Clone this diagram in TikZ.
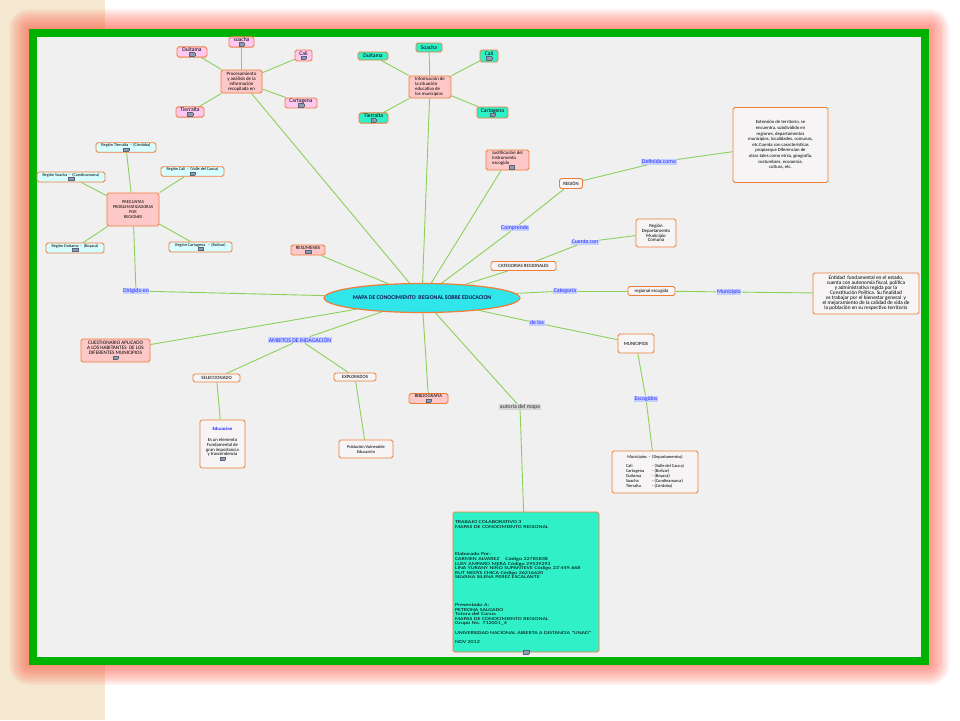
\documentclass[tikz,border=0pt]{standalone}
\usepackage{fontspec}
\setmainfont{Carlito}
\newfontfamily\widefont{Carlito}[FakeStretch=1.33]
\usetikzlibrary{shapes.geometric}
\definecolor{frgreen}{RGB}{0,178,0}
\definecolor{innerbg}{RGB}{240,240,240}
\definecolor{beige}{RGB}{246,233,210}
\definecolor{glow}{RGB}{255,80,60}
\definecolor{nbord}{RGB}{238,125,58}
\definecolor{pinkf}{RGB}{255,200,200}
\definecolor{lavf}{RGB}{255,200,240}
\definecolor{aquaf}{RGB}{48,240,200}
\definecolor{cyanf}{RGB}{48,230,235}
\definecolor{lcyan}{RGB}{215,255,255}
\definecolor{whitef}{RGB}{246,244,244}
\definecolor{egreen}{RGB}{140,208,90}
\definecolor{lblbg}{RGB}{196,208,255}
\definecolor{lbltx}{RGB}{40,40,255}
\definecolor{icfill}{RGB}{140,156,178}
\definecolor{icbord}{RGB}{90,100,120}
\definecolor{graybg}{RGB}{214,214,214}
\definecolor{navy}{RGB}{20,20,80}
\newcommand\icn{{\setlength\fboxsep{0pt}\setlength\fboxrule{0.3pt}\fcolorbox{icbord}{icfill}{\rule{0pt}{3pt}\hspace{5pt}}}}
\newcommand\fz[2]{\fontsize{#1}{#2}\selectfont}
\pgfdeclarelayer{back}\pgfdeclarelayer{edges}\pgfsetlayers{back,edges,main}
\tikzset{
 box/.style={draw=nbord, line width=0.9pt, rounded corners=1.8pt, fill=pinkf, align=center, inner sep=1pt, font=\fz{4.3}{5}},
 sz/.style 2 args={minimum width=#1pt, minimum height=#2pt},
 lav/.style={box, fill=lavf, font=\fz{5.6}{5}},
 aq/.style={box, fill=aquaf, font=\fz{5.6}{5}},
 rg/.style={box, fill=lcyan, font=\fz{4.2}{4.6}},
 wb/.style={box, fill=whitef},
 capbox/.style={box, font=\fz{4.8}{5}},
 lbl/.style={fill=lblbg, text=lbltx, inner sep=0.6pt, font=\fz{5.8}{6}},
 edge/.style={draw=egreen, line width=0.9pt},
}
\begin{document}
\begin{tikzpicture}[x=1pt,y=-1pt]
\useasboundingbox (0,0) rectangle (960,720);
\begin{pgfonlayer}{back}
\fill[white] (0,0) rectangle (960,720);
\fill[beige] (0,0) rectangle (105,720);
\foreach \d in {20,18,...,2}
  \fill[glow, opacity=0.075, rounded corners=\d pt] (29-\d,29-\d) rectangle (929+\d,665+\d);
\fill[frgreen] (29,29) rectangle (929,665);
\fill[innerbg] (37,37) rectangle (921,657);
\end{pgfonlayer}

% centre
\node[ellipse, draw=nbord, line width=1.2pt, fill=cyanf, minimum width=176pt, minimum height=29pt, inner sep=0pt, font=\fz{5.8}{6}\bfseries, text=navy] (mapa) at (422,298) {MAPA DE CONOCIMIENTO\ \ REGIONAL SOBRE EDUCACION};

% top-left cluster
\node[box, sz={41}{23}, font=\fz{4.9}{5}] (proc) at (241.5,81.5) {Procesamiento\\y análisis de la\\información\\recopilada en};
\node[lav, sz={30}{10}] (duit1) at (192,52) {Duitama\\[-1pt]\icn};
\node[lav, sz={25}{10}] (soa1) at (241.5,42) {soacha\\[-1pt]\icn};
\node[lav, sz={17}{11}] (cali1) at (303.5,55.5) {Cali\\[-1pt]\icn};
\node[lav, sz={32}{10}] (cart1) at (301,103) {Cartagena\\[-1pt]\icn};
\node[lav, sz={28}{10}] (tier1) at (190,112) {Tierralta\\[-1pt]\icn};

% top-middle cluster
\node[box, sz={42}{22}, align=left, font=\fz{4.8}{5}] (info) at (430,87) {Información de\\la situación\\educativa de\\los municipios};
\node[aq, sz={26}{9}] (soa2) at (429,47.5) {Soacha};
\node[aq, sz={30}{8}] (duit2) at (373,56) {Duitama};
\node[aq, sz={18}{12}] (cali2) at (489,56) {Cali\\[-1pt]\icn};
\node[aq, sz={31}{11}] (cart2) at (492.5,112.5) {Cartagena\\[-1pt]\icn};
\node[aq, sz={29}{10}] (tier2) at (373.5,118) {Tierralta\\[-1pt]\icn};

% left cluster
\node[box, sz={52}{33}, font=\fz{4.4}{5}] (preg) at (133,209.5) {PREGUNTAS\\PROBLEMATIZADORAS\\POR\\REGIONES};
\node[rg, sz={60}{9}] (rtier) at (126,147.5) {Región Tierralta\ \ -\ \ (Córdoba)\\[-0.5pt]\icn};
\node[rg, sz={68}{10}] (rsoa) at (71,177) {Región Soacha\ \ -\ \ (Cundinamarca)\\[-0.5pt]\icn};
\node[rg, sz={63}{9}] (rcali) at (192.5,171.5) {Región Cali\ \ -\ \ (Valle del Cauca)\\[-0.5pt]\icn};
\node[rg, sz={58}{10}] (rduit) at (75,248) {Región Duitama\ \ -\ \ (Boyacá)\\[-0.5pt]\icn};
\node[rg, sz={63}{10}] (rcart) at (200.5,247) {Región Cartagena\ \ \ -\ \ (Bolívar)\\[-0.5pt]\icn};
\node[lbl] (dirig) at (136,291) {Dirigido en};

% upper middle
\node[capbox, sz={34}{10}] (resum) at (308,250) {RESUMENES\\[-1pt]\icn};
\node[box, sz={43}{20}, align=left, font=\fz{4.8}{5}] (justif) at (507.5,160) {Justificación del\\instrumento\\escogido\\[-1pt]\hspace*{17pt}\icn};
\node[lbl] (comprende) at (515,228) {Comprende};
\node[capbox, fill=whitef, sz={23}{10}] (region) at (571,183.5) {REGIÓN};
\node[lbl] (defin) at (659,162) {Definida como};
\node[wb, sz={95}{75}, font=\fz{4.7}{5.6}] (regdesc) at (780.5,145) {Extensión de territorio, se\\encuentra, subdividido en\\regiones, departamentos\\municipios, localidades, comunas,\\etc.Cuenta con características\\propiasque Diferencian de\\otras tales como etnia, geografía,\\costumbres, economía,\\cultura, etc.};
\node[capbox, fill=whitef, sz={65}{9}] (categ) at (523.5,266) {CATEGORIAS REGIONALES};
\node[lbl] (cuenta) at (585,242) {Cuenta con};
\node[wb, sz={40}{28}, font=\fz{4.8}{4.8}] (rdmc) at (656,233) {Región\\Departamento\\Municipio\\Comuna};

% right middle
\node[lbl] (categoria) at (565,291) {Categoría};
\node[wb, sz={47}{9}, font=\fz{4.8}{5}] (regesc) at (651.5,291) {regional escogida};
\node[lbl] (municipio) at (729,292) {Municipio};
\node[wb, sz={106}{41}, font=\fz{5.3}{5}] (entidad) at (866,293.5) {Entidad\ \ fundamental en el estado,\\cuenta con autonomía fiscal, política\\y administrativa regida por la\\Constitución Política. Su finalidad\\es trabajar por el bienestar general\ \ y\\el mejoramiento de la calidad de vida de\\la población en su respectivo territorio};
\node[lbl] (delos) at (537,323) {de los};
\node[capbox, fill=whitef, sz={36}{19}] (munic) at (636,343.5) {MUNICIPIOS};
\node[lbl] (escog) at (646,399) {Escogidos};
\node[wb, sz={86}{42}, font=\fz{4.4}{4.8}] (mlist) at (655,472) {Municipios\ \ -\ \ (Departamentos)\\[4pt]\begin{tabular}{@{}l@{\hspace{8pt}}l@{}}Cali & - (Valle del Cauca)\\Cartagena & - (Bolívar)\\Duitama & - (Boyacá)\\Soacha & - (Cundinamarca)\\Tierralta & - (Córdoba)\end{tabular}};

% lower middle
\node[capbox, sz={39}{10}] (biblio) at (428.5,398.5) {BIBLIOGRAFIA\\[-1pt]\icn};
\node[fill=graybg, text=black!80, inner sep=0.6pt, font=\fz{5.8}{6}] (autoria) at (520,407) {autoria del mapa};
\node[box, fill=aquaf, text width=142pt, minimum height=140pt, align=left, font=\widefont\fz{4.5}{4.6}, inner sep=2pt] (autor) at (526,582) {TRABAJO COLABORATIVO 3\\MAPAS DE CONOCIMIENTO REGIONAL\\[23pt]Elaborado Por:\\CARMEN ALVAREZ\quad\ Código 22785838\\LUSY AMPARO MERA Código 29539293\\LINA YURANY NIÑO SUPANTEVE Código 23´449.668\\RUT NEDYS CHICA Código 26216620\\SILVANA SILENA PEREZ ESCALANTE\\[23pt]Presentado A:\\PETRONA SALGADO\\Tutora del Curso:\\MAPAS DE CONOCIMIENTO REGIONAL\\Grupo No. 712001\_4\\[4.6pt]UNIVERSIDAD NACIONAL ABIERTA A DISTANCIA "UNAD"\\[4.6pt]NOV 2012};
\node[inner sep=0pt] (autoricon) at (526,652) {\icn};

% lower left
\node[box, sz={69}{23}, font=\fz{5.2}{5}] (cuest) at (115.5,350.5) {CUESTIONARIO APLICADO\\A LOS HABITANTES\ \ DE LOS\\DIFERENTES MUNICIPIOS\\[-0.5pt]\icn};
\node[lbl] (ambitos) at (300,340) {AMBITOS DE INDAGACIÓN};
\node[capbox, fill=whitef, sz={47}{8}] (selec) at (216.5,378) {SELECCIONADO};
\node[capbox, fill=whitef, sz={42}{8}] (explo) at (355,377) {EXPLORADOS};
\node[wb, sz={45}{48}, font=\fz{4.7}{4.8}] (educ) at (222.5,444) {{\color{lbltx}\bfseries Educacion}\\[6pt]Es un elemento\\Fundamental de\\gran importancia\\y trascendencia\\[-0.5pt]\icn};
\node[wb, sz={54}{18}, font=\fz{4.4}{5}] (pobl) at (366,449) {Población Vulnerable\\Educación};

\begin{pgfonlayer}{edges}
\foreach \a/\b in {proc/duit1, proc/soa1, proc/cali1, proc/cart1, proc/tier1, proc/mapa,
  info/soa2, info/duit2, info/cali2, info/cart2, info/tier2, info/mapa,
  preg/rtier, preg/rsoa, preg/rcali, preg/rduit, preg/rcart, preg/dirig, dirig/mapa,
  resum/mapa, justif/mapa, mapa/comprende, comprende/region, region/defin, defin/regdesc,
  mapa/categ, categ/cuenta, cuenta/rdmc, mapa/categoria, categoria/regesc, regesc/municipio, municipio/entidad,
  mapa/delos, delos/munic, munic/escog, escog/mlist, mapa/biblio, mapa/autoria, autoria/autor,
  mapa/cuest, mapa/ambitos, ambitos/selec, ambitos/explo, selec/educ, explo/pobl}
  \draw[edge] (\a) -- (\b);
\end{pgfonlayer}
\end{tikzpicture}
\end{document}
